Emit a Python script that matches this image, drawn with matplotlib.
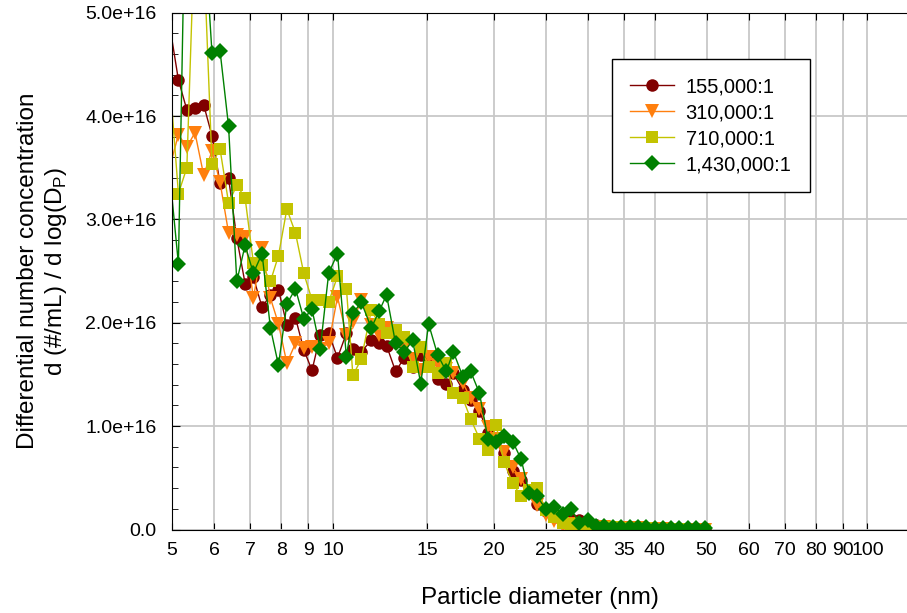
import matplotlib
matplotlib.use("Agg")
import matplotlib.pyplot as plt
from matplotlib.ticker import FixedLocator, MultipleLocator, FuncFormatter

plt.rcParams["font.family"] = ["Liberation Sans", "DejaVu Sans"]

# SMPS channel midpoints (nm), 64 channels per decade
diameters = [
    4.96, 5.14, 5.33, 5.52, 5.73, 5.94, 6.15, 6.38, 6.61, 6.85,
    7.10, 7.37, 7.64, 7.91, 8.20, 8.51, 8.82, 9.14, 9.47, 9.82,
    10.2, 10.6, 10.9, 11.3, 11.8, 12.2, 12.6, 13.1, 13.6, 14.1,
    14.6, 15.1, 15.7, 16.3, 16.8, 17.5, 18.1, 18.8, 19.5, 20.2,
    20.9, 21.7, 22.5, 23.3, 24.1, 25.0, 25.9, 26.9, 27.9, 28.9,
    30.0, 31.1, 32.2, 33.4, 34.6, 35.9, 37.2, 38.5, 40.0, 41.4,
    42.9, 44.5, 46.1, 47.8, 49.6,
]

# values in units of 1e16
conc_155k = [
    4.85, 4.35, 4.06, 4.08, 4.11, 3.81, 3.35, 3.40, 2.82, 2.38,
    2.44, 2.15, 2.27, 2.32, 1.98, 2.05, 1.74, 1.54, 1.88, 1.90,
    1.66, 1.90, 1.75, 1.72, 1.83, 1.80, 1.78, 1.53, 1.66, 1.57,
    1.69, 1.62, 1.46, 1.41, 1.51, 1.35, 1.25, 1.15, 0.93, 0.87,
    0.74, 0.57, 0.48, 0.36, 0.25, 0.18, 0.12, 0.10, 0.10, 0.09,
    0.05, 0.04, 0.03, 0.02, 0.02, 0.015, 0.01, 0.01, 0.01, 0.01,
    0.005, 0.005, 0.005, 0.0, 0.0,
]
conc_310k = [
    3.52, 3.82, 3.70, 3.84, 3.43, 3.66, 3.36, 2.87, 2.85, 2.83,
    2.24, 2.72, 2.24, 1.99, 1.61, 1.80, 1.76, 1.77, 1.75, 1.80,
    2.25, 1.88, 2.01, 2.22, 1.98, 1.88, 1.95, 1.82, 1.75, 1.65,
    1.54, 1.67, 1.59, 1.55, 1.51, 1.42, 1.27, 1.17, 0.99, 0.88,
    0.75, 0.60, 0.49, 0.35, 0.24, 0.14, 0.08, 0.03, 0.05, 0.04,
    0.03, 0.02, 0.02, 0.015, 0.01, 0.01, 0.01, 0.005, 0.005, 0.005,
    0.0, 0.0, 0.0, 0.0, 0.0,
]
conc_710k = [
    4.30, 3.25, 3.50, 5.90, 5.60, 3.54, 3.68, 3.16, 3.33, 3.21,
    2.58, 2.56, 2.40, 2.65, 3.10, 2.87, 2.48, 2.22, 2.22, 2.20,
    2.45, 2.33, 1.49, 1.65, 2.12, 1.99, 1.90, 1.93, 1.86, 1.57,
    1.77, 1.57, 1.51, 1.61, 1.32, 1.27, 1.07, 0.88, 0.77, 1.01,
    0.65, 0.45, 0.32, 0.38, 0.40, 0.19, 0.12, 0.06, 0.05, 0.04,
    0.03, 0.02, 0.02, 0.02, 0.01, 0.01, 0.01, 0.01, 0.005, 0.005,
    0.005, 0.005, 0.0, 0.0, 0.0,
]
conc_1430k = [
    3.40, 2.57, 7.00, 6.50, 5.90, 4.61, 4.63, 3.90, 2.40, 2.75,
    2.48, 2.67, 1.95, 1.59, 2.18, 2.33, 2.04, 2.13, 1.75, 2.48,
    2.67, 1.67, 2.09, 2.20, 1.95, 2.11, 2.27, 1.80, 1.72, 1.83,
    1.41, 1.99, 1.69, 1.53, 1.72, 1.48, 1.53, 1.32, 0.88, 0.85,
    0.90, 0.85, 0.68, 0.35, 0.32, 0.20, 0.22, 0.15, 0.20, 0.06,
    0.09, 0.03, 0.03, 0.02, 0.02, 0.02, 0.02, 0.02, 0.015, 0.015,
    0.01, 0.01, 0.01, 0.01, 0.01,
]

series = [
    ("155,000:1", conc_155k, "#800000", "o", 9),
    ("310,000:1", conc_310k, "#ff7f0e", "v", 9.5),
    ("710,000:1", conc_710k, "#c3c300", "s", 8.5),
    ("1,430,000:1", conc_1430k, "#008000", "D", 8),
]

x_ticks = [5, 6, 7, 8, 9, 10, 15, 20, 25, 30, 35, 40, 50, 60, 70, 80, 90, 100]

fig = plt.figure(figsize=(9.07, 6.13), dpi=100)
ax = fig.add_axes([172 / 907, 1 - 529.5 / 613, 1 - 172 / 907, (529.5 - 12.7) / 613])

for label, vals, color, marker, ms in series:
    # first channel sits just left of the axis edge: only its line shows
    ax.plot(diameters, [v * 1e16 for v in vals], color=color, marker=marker,
            markersize=ms, linewidth=1.0, label=label, markeredgewidth=0,
            markevery=slice(1, None))

ax.set_xscale("log")
ax.set_xlim(5, 118.6)
ax.set_ylim(0, 5e16)
ax.xaxis.set_major_locator(FixedLocator(x_ticks))
ax.xaxis.set_major_formatter(FuncFormatter(lambda v, p: f"{v:g}"))
ax.xaxis.set_minor_locator(FixedLocator([]))
ax.yaxis.set_major_locator(MultipleLocator(1e16))
ax.yaxis.set_minor_locator(MultipleLocator(2e15))
ax.yaxis.set_major_formatter(FuncFormatter(lambda v, p: "0.0" if v == 0 else f"{v:.1e}"))

ax.tick_params(which="both", direction="in", top=True, labelsize=14)
ax.tick_params(axis="x", which="major", length=5, pad=9)
ax.tick_params(axis="y", which="major", length=6, pad=11)
ax.tick_params(axis="y", which="minor", length=4)
ax.spines["right"].set_visible(False)
ax.grid(True, which="major", color="#c8c8c8", linewidth=1.3)
ax.set_axisbelow(True)

ax.set_xlabel("Particle diameter (nm)", fontsize=17.5, labelpad=20)
ax.set_ylabel("Differential number concentration\nd (#/mL) / d log(D$_\\mathregular{P}$)",
              fontsize=17.5, labelpad=12)

leg = ax.legend(loc="upper left", bbox_to_anchor=(612 / 907, 1 - 59 / 613),
                bbox_transform=fig.transFigure, borderaxespad=0, fontsize=14.5,
                fancybox=False, frameon=True, handlelength=2.2, handletextpad=0.55,
                labelspacing=0.35, borderpad=0.9)
leg.get_frame().set_edgecolor("black")
leg.get_frame().set_linewidth(1.0)
leg.get_frame().set_alpha(1)

fig.savefig("out.png", dpi=100)
